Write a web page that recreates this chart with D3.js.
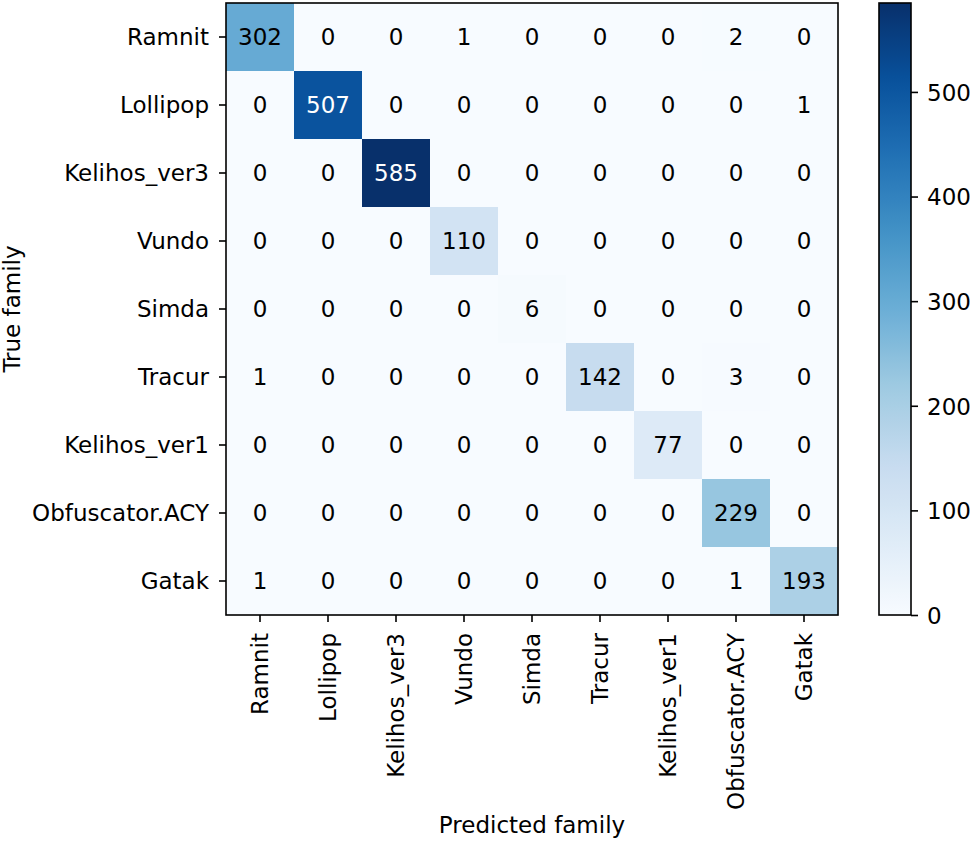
<!DOCTYPE html>
<html><head><meta charset="utf-8">
<script src="https://cdn.jsdelivr.net/npm/d3@7"></script>
<style>body{margin:0;background:#fff}svg{display:block}text{font-family:"DejaVu Sans",sans-serif;fill:#000}</style>
</head><body>
<svg id="c" width="970" height="841"></svg>
<script>
const families = ["Ramnit","Lollipop","Kelihos_ver3","Vundo","Simda","Tracur","Kelihos_ver1","Obfuscator.ACY","Gatak"];
const matrix = [
  [302,0,0,1,0,0,0,2,0],
  [0,507,0,0,0,0,0,0,1],
  [0,0,585,0,0,0,0,0,0],
  [0,0,0,110,0,0,0,0,0],
  [0,0,0,0,6,0,0,0,0],
  [1,0,0,0,0,142,0,3,0],
  [0,0,0,0,0,0,77,0,0],
  [0,0,0,0,0,0,0,229,0],
  [1,0,0,0,0,0,0,1,193]
];
const colorbarTicks = [0,100,200,300,400,500];
const bluesStops = ["#f7fbff","#deebf7","#c6dbef","#9ecae1","#6baed6","#4292c6","#2171b5","#08519c","#08306b"];

const FS = "23px";
const svg = d3.select("#c");
const L = 226, T = 3, W = 612, H = 612;
const vmax = d3.max(matrix.flat());
const x = d3.scaleBand().domain(families).range([L, L+W]);
const y = d3.scaleBand().domain(families).range([T, T+H]);
const color = d3.scaleLinear()
  .domain(bluesStops.map((_, i) => vmax * i / (bluesStops.length - 1)))
  .range(bluesStops).interpolate(d3.interpolateRgb);

const cells = [];
matrix.forEach((row, i) => row.forEach((v, j) => cells.push({r: families[i], c: families[j], v})));

svg.append("g").selectAll("rect").data(cells).join("rect")
  .attr("x", d => x(d.c)).attr("y", d => y(d.r))
  .attr("width", x.bandwidth() + 0.5).attr("height", y.bandwidth() + 0.5)
  .attr("fill", d => color(d.v));

svg.append("g").selectAll("text").data(cells).join("text")
  .attr("x", d => x(d.c) + x.bandwidth()/2).attr("y", d => y(d.r) + y.bandwidth()/2)
  .attr("text-anchor", "middle").attr("dy", "0.36em")
  .style("font-size", FS)
  .style("fill", d => d.v > vmax * 0.6 ? "#fff" : "#000")
  .text(d => d.v);

// frame
svg.append("rect").attr("x", L).attr("y", T).attr("width", W).attr("height", H)
  .attr("fill", "none").attr("stroke", "#000").attr("stroke-width", 1.6);

// axes
const xAxis = svg.append("g").attr("transform", `translate(0,${T+H})`)
  .call(d3.axisBottom(x).tickSize(7).tickPadding(0));
xAxis.select(".domain").remove();
xAxis.selectAll(".tick line").attr("stroke", "#000").attr("stroke-width", 1.6);
xAxis.selectAll(".tick text")
  .style("font-size", FS).attr("fill", "#000")
  .attr("text-anchor", "end").attr("transform", "rotate(-90)")
  .attr("x", -18).attr("y", 0).attr("dy", "0.36em");

const yAxis = svg.append("g").attr("transform", `translate(${L},0)`)
  .call(d3.axisLeft(y).tickSize(7).tickPadding(10));
yAxis.select(".domain").remove();
yAxis.selectAll(".tick line").attr("stroke", "#000").attr("stroke-width", 1.6);
yAxis.selectAll(".tick text").style("font-size", FS).attr("fill", "#000").attr("dy", "0.36em");

svg.append("text").attr("x", L + W/2).attr("y", 833).attr("text-anchor", "middle")
  .style("font-size", FS).text("Predicted family");
svg.append("text").attr("transform", `translate(20,${T + H/2}) rotate(-90)`).attr("text-anchor", "middle")
  .style("font-size", FS).text("True family");

// colorbar
const CX = 879, CW = 32;
const cy = d3.scaleLinear().domain([0, vmax]).range([T + H, T]);
const defs = svg.append("defs");
const grad = defs.append("linearGradient").attr("id", "g").attr("x1", 0).attr("y1", 1).attr("x2", 0).attr("y2", 0);
d3.range(0, 1.0001, 0.02).forEach(t => grad.append("stop").attr("offset", t).attr("stop-color", color(t * vmax)));
svg.append("rect").attr("x", CX).attr("y", T).attr("width", CW).attr("height", H)
  .attr("fill", "url(#g)").attr("stroke", "#000").attr("stroke-width", 1.6);
const cAxis = svg.append("g").attr("transform", `translate(${CX+CW},0)`)
  .call(d3.axisRight(cy).tickValues(colorbarTicks).tickSize(7).tickPadding(9));
cAxis.select(".domain").remove();
cAxis.selectAll(".tick line").attr("stroke", "#000").attr("stroke-width", 1.6);
cAxis.selectAll(".tick text").style("font-size", FS).attr("fill", "#000").attr("dy", "0.36em");
</script>
</body></html>
